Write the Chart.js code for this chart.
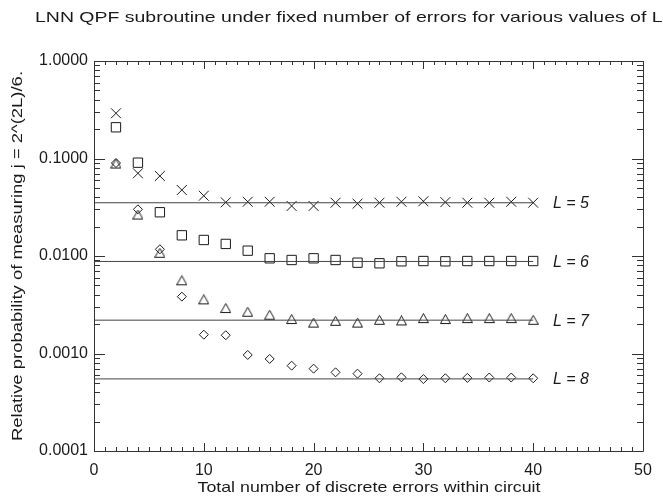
<!DOCTYPE html>
<html>
<head>
<meta charset="utf-8">
<script src="https://cdn.jsdelivr.net/npm/chart.js@4/dist/chart.umd.min.js"></script>
<style>
  html, body { margin: 0; padding: 0; background: #fff; }
  #wrap { width: 663px; height: 500px; position: relative; }
</style>
</head>
<body>
<div id="wrap"><canvas id="c" width="663" height="500"></canvas></div>
<script>
// Number of discrete errors injected into the circuit
const errorCounts = [2, 4, 6, 8, 10, 12, 14, 16, 18, 20, 22, 24, 26, 28, 30, 32, 34, 36, 38, 40];

// Relative probability of measuring j = 2^(2L)/6 for each register size L
const probL5 = [0.291, 0.0705, 0.0662, 0.0475, 0.0415, 0.0355, 0.0360, 0.0360, 0.0326, 0.0326,
                0.0352, 0.0344, 0.0352, 0.0360, 0.0364, 0.0357, 0.0352, 0.0352, 0.0360, 0.0352];
const probL6 = [0.209, 0.0906, 0.0281, 0.0163, 0.0146, 0.0133, 0.01134, 0.00947, 0.0091, 0.00947,
                0.0091, 0.00854, 0.00842, 0.00882, 0.00888, 0.00882, 0.00888, 0.00888, 0.00888, 0.00888];
const probL7 = [0.0878, 0.0263, 0.01066, 0.00557, 0.00355, 0.00289, 0.00265, 0.00247, 0.00223, 0.00205,
                0.00214, 0.00205, 0.00219, 0.00216, 0.00228, 0.00223, 0.00228, 0.00228, 0.00228, 0.00219];
const probL8 = [0.0899, 0.0301, 0.01172, 0.00383, 0.00156, 0.00154, 0.000966, 0.000879, 0.000750, 0.000699,
                0.000641, 0.000621, 0.000557, 0.000570, 0.000547, 0.000557, 0.000562, 0.000567, 0.000567, 0.000557];

// Error-free reference levels and their labels
const registerSizes = [5, 6, 7, 8];
const noErrorLevels = [0.03516, 0.00879, 0.002197, 0.000549];
const levelLabels = ['L = 5', 'L = 6', 'L = 7', 'L = 8'];
const levelSpan = [0, 40];

// Axis tick labels
const xTickValues = [0, 10, 20, 30, 40, 50];
const yTickValues = [1, 0.1, 0.01, 0.001, 0.0001];

const titleText = 'LNN QPF subroutine under fixed number of errors for various values of L.';
const xTitleText = 'Total number of discrete errors within circuit';
const yTitleText = 'Relative probability of measuring j = 2^(2L)/6.';

const INK = '#1a1a1a';
const FRAME = '#333333';
const FONT = '"Liberation Sans", Arial, sans-serif';

// Open triangle marker, centred on its bounding box
function triangleMarker() {
  const c = document.createElement('canvas');
  c.width = 11; c.height = 11;
  const g = c.getContext('2d');
  g.strokeStyle = INK;
  g.lineWidth = 1;
  g.beginPath();
  g.moveTo(0.5, 9.5);
  g.lineTo(5.5, 0.5);
  g.lineTo(10.5, 9.5);
  g.closePath();
  g.stroke();
  return c;
}

function toPoints(ys) {
  return errorCounts.map((x, i) => ({ x: x, y: ys[i] }));
}

const markerSets = [
  { data: probL5, style: 'crossRot', radius: 7 },
  { data: probL6, style: 'rect', radius: 6.6 },
  { data: probL7, style: triangleMarker(), radius: 6 },
  { data: probL8, style: 'rectRot', radius: 4.5 }
];

const datasets = [];
noErrorLevels.forEach((lvl) => {
  datasets.push({
    type: 'line',
    data: levelSpan.map((x) => ({ x: x, y: lvl })),
    borderColor: '#444',
    borderWidth: 1,
    pointRadius: 0,
    fill: false
  });
});
markerSets.forEach((m) => {
  datasets.push({
    type: 'scatter',
    data: toPoints(m.data),
    pointStyle: m.style,
    pointRadius: m.radius,
    pointBorderColor: INK,
    pointBackgroundColor: 'rgba(0,0,0,0)',
    pointBorderWidth: 1,
    showLine: false
  });
});

// Draws the frame with inward ticks, titles and the L labels
const decorations = {
  id: 'decorations',
  afterDraw(chart) {
    const ctx = chart.ctx;
    const a = chart.chartArea;
    const xs = chart.scales.x;
    const ys = chart.scales.y;
    ctx.save();
    ctx.strokeStyle = FRAME;
    ctx.lineWidth = 1;
    ctx.beginPath();
    ctx.rect(Math.round(a.left) + 0.5, Math.round(a.top) + 0.5,
             Math.round(a.right - a.left), Math.round(a.bottom - a.top));
    ctx.stroke();

    ctx.beginPath();
    // x ticks: major every 10, minor every 1
    for (let v = 0; v <= 50; v++) {
      const px = Math.round(xs.getPixelForValue(v)) + 0.5;
      const len = (v % 10 === 0) ? 8 : 4;
      ctx.moveTo(px, a.bottom); ctx.lineTo(px, a.bottom - len);
      ctx.moveTo(px, a.top); ctx.lineTo(px, a.top + len);
    }
    // y ticks: decades major, 2..9 minor
    for (let d = -4; d <= 0; d++) {
      for (let m = 1; m <= 9; m++) {
        const v = m * Math.pow(10, d);
        if (v > 1.0000001) break;
        const py = Math.round(ys.getPixelForValue(v)) + 0.5;
        const len = (m === 1) ? 11 : 6;
        ctx.moveTo(a.left, py); ctx.lineTo(a.left + len, py);
        ctx.moveTo(a.right, py); ctx.lineTo(a.right - len, py);
      }
    }
    ctx.stroke();

    ctx.fillStyle = INK;
    // Main title
    ctx.font = '15px ' + FONT;
    ctx.textBaseline = 'alphabetic';
    ctx.textAlign = 'left';
    let w = ctx.measureText(titleText).width;
    ctx.save();
    ctx.translate(35, 22);
    ctx.scale(633 / w, 1);
    ctx.fillText(titleText, 0, 0);
    ctx.restore();

    // x-axis title
    ctx.textBaseline = 'middle';
    w = ctx.measureText(xTitleText).width;
    ctx.save();
    ctx.translate(369, 488);
    ctx.scale(343 / w, 1);
    ctx.textAlign = 'center';
    ctx.fillText(xTitleText, 0, 0);
    ctx.restore();

    // y-axis title
    w = ctx.measureText(yTitleText).width;
    ctx.save();
    ctx.translate(18, 256);
    ctx.rotate(-Math.PI / 2);
    ctx.scale(370 / w, 1);
    ctx.textAlign = 'center';
    ctx.fillText(yTitleText, 0, 0);
    ctx.restore();

    // Level labels next to the reference lines
    ctx.font = 'italic 16px ' + FONT;
    ctx.textAlign = 'left';
    ctx.textBaseline = 'middle';
    levelLabels.forEach((t, i) => {
      ctx.fillText(t, xs.getPixelForValue(41.8), ys.getPixelForValue(noErrorLevels[i]) + 1);
    });
    ctx.restore();
  }
};

new Chart(document.getElementById('c'), {
  data: { datasets: datasets },
  options: {
    responsive: false,
    animation: false,
    layout: { padding: { left: 0, right: 20, top: 61, bottom: 0 } },
    plugins: { legend: { display: false }, tooltip: { enabled: false } },
    scales: {
      x: {
        type: 'linear',
        min: 0,
        max: 50,
        afterBuildTicks(scale) { scale.ticks = xTickValues.map((v) => ({ value: v })); },
        afterFit(scale) { scale.height = 49; },
        grid: { display: false, drawTicks: false },
        border: { display: false },
        ticks: {
          padding: 10,
          color: INK,
          font: { family: FONT, size: 16 },
          callback: (v) => String(v)
        }
      },
      y: {
        type: 'logarithmic',
        min: 0.0001,
        max: 1,
        afterBuildTicks(scale) { scale.ticks = yTickValues.map((v) => ({ value: v })); },
        afterFit(scale) { scale.width = 94; },
        grid: { display: false, drawTicks: false },
        border: { display: false },
        ticks: {
          padding: 6,
          color: INK,
          font: { family: FONT, size: 16 },
          callback: (v) => Number(v).toFixed(4)
        }
      }
    }
  },
  plugins: [decorations]
});
</script>
</body>
</html>
